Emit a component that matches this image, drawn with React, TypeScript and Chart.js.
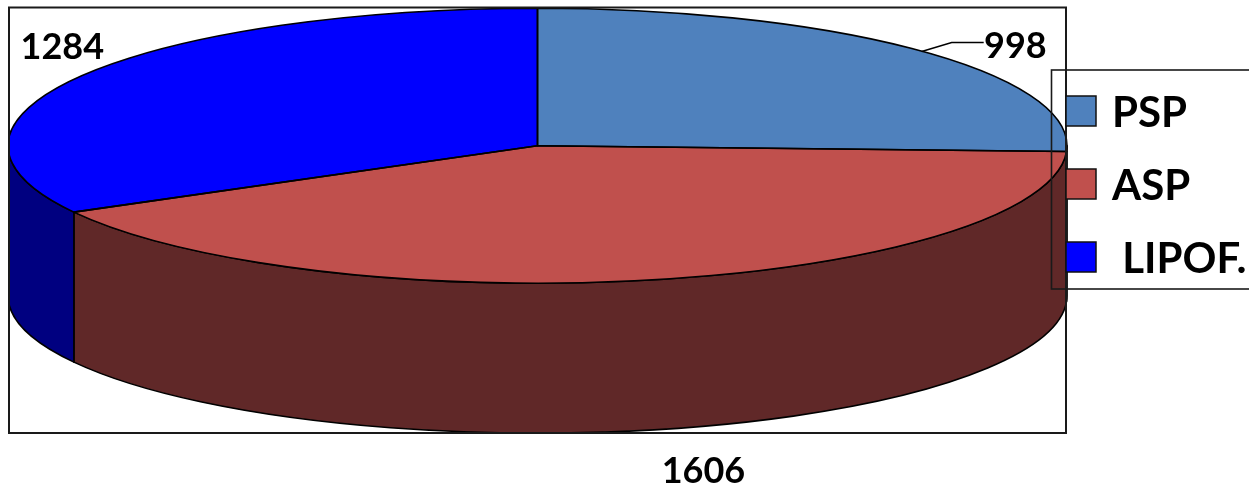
import React, { useEffect, useRef } from 'react';
import { Chart, registerables } from 'chart.js';

Chart.register(...registerables);

// ---- data ----
const categories = ['PSP', 'ASP', ' LIPOF.'];
const values = [998, 1606, 1284];
const valueLabels = ['998', '1606', '1284'];

// ---- styles ----
const topColors = ['#4F81BD', '#C0504D', '#0000FF'];
const sideColors = ['#2B4566', '#602828', '#000080'];

const W = 1249;
const H = 486;
const CX = 537.5;
const CY = 145.7;
const RX = 529.5;
const RY = 137.5;
const DEPTH = 150;
const PLOT = { left: 9, top: 7.5, right: 1066, bottom: 433 };
const FONT = 'Lato, "Liberation Sans", sans-serif';
// label offsets from the slice's outer-edge anchor point (text centre x, baseline y)
const labelOffsets: [number, number][] = [[95.7, 7], [44.7, 53.5], [-19.2, -17]];
const labelOnSide = [false, true, false];

function ellPt(t: number, dy = 0): [number, number] {
  return [CX + RX * Math.cos(t), CY + dy + RY * Math.sin(t)];
}

function drawSide(ctx: CanvasRenderingContext2D, a1: number, a2: number, color: string) {
  ctx.beginPath();
  ctx.ellipse(CX, CY, RX, RY, 0, a1, a2, false);
  const p = ellPt(a2, DEPTH);
  ctx.lineTo(p[0], p[1]);
  ctx.ellipse(CX, CY + DEPTH, RX, RY, 0, a2, a1, true);
  ctx.closePath();
  ctx.fillStyle = color;
  ctx.fill();
  ctx.lineWidth = 1.6;
  ctx.strokeStyle = '#000';
  ctx.lineJoin = 'round';
  ctx.stroke();
}

const pie3d = {
  id: 'pie3d',
  beforeDatasetsDraw(chart: any) {
    const ctx: CanvasRenderingContext2D = chart.ctx;
    const arcs = chart.getDatasetMeta(0).data;
    ctx.save();
    ctx.beginPath();
    ctx.rect(PLOT.left + 1, 0, W, H);
    ctx.clip();
    arcs.forEach((arc: any, i: number) => {
      const { startAngle, endAngle } = arc.getProps(['startAngle', 'endAngle'], true);
      for (const k of [-1, 0, 1]) {
        const a1 = Math.max(startAngle + 2 * Math.PI * k, 0);
        const a2 = Math.min(endAngle + 2 * Math.PI * k, Math.PI);
        if (a2 > a1) drawSide(ctx, a1, a2, sideColors[i]);
      }
    });
    const a0 = arcs[0];
    const r = a0.outerRadius;
    ctx.save();
    ctx.translate(CX, CY);
    ctx.scale(RX / r, RY / r);
    ctx.translate(-a0.x, -a0.y);
  },
  afterDatasetsDraw(chart: any) {
    const ctx: CanvasRenderingContext2D = chart.ctx;
    const arcs = chart.getDatasetMeta(0).data;
    ctx.restore();
    // top outlines
    ctx.lineWidth = 1.6;
    ctx.strokeStyle = '#000';
    ctx.lineJoin = 'round';
    arcs.forEach((arc: any) => {
      const { startAngle, endAngle } = arc.getProps(['startAngle', 'endAngle'], true);
      ctx.beginPath();
      ctx.moveTo(CX, CY);
      const p = ellPt(startAngle);
      ctx.lineTo(p[0], p[1]);
      ctx.ellipse(CX, CY, RX, RY, 0, startAngle, endAngle, false);
      ctx.closePath();
      ctx.stroke();
    });
    ctx.restore();

    // plot border
    ctx.lineWidth = 2;
    ctx.strokeStyle = '#1a1a1a';
    ctx.strokeRect(PLOT.left, PLOT.top, PLOT.right - PLOT.left, PLOT.bottom - PLOT.top);

    // data labels
    ctx.font = `bold 36px ${FONT}`;
    ctx.fillStyle = '#000';
    ctx.textAlign = 'center';
    ctx.textBaseline = 'alphabetic';
    arcs.forEach((arc: any, i: number) => {
      const { startAngle, endAngle } = arc.getProps(['startAngle', 'endAngle'], true);
      const mid = (startAngle + endAngle) / 2;
      const [ax, ay] = ellPt(mid, labelOnSide[i] ? DEPTH : 0);
      const [ox, oy] = labelOffsets[i];
      if (i === 0) {
        ctx.beginPath();
        ctx.lineWidth = 1.5;
        ctx.strokeStyle = '#000';
        ctx.moveTo(ax + 2, ay + 1);
        ctx.lineTo(ax + 32, ay - 8);
        ctx.lineTo(ax + 64, ay - 8);
        ctx.stroke();
      }
      ctx.fillText(valueLabels[i], ax + ox, ay + oy);
    });

    // legend
    const lx = 1051.5;
    const ly = 70;
    ctx.lineWidth = 1.6;
    ctx.strokeStyle = '#1a1a1a';
    ctx.strokeRect(lx, ly, 260, 219);
    ctx.font = `bold 42px ${FONT}`;
    ctx.textAlign = 'left';
    categories.forEach((c, i) => {
      const sy = 96 + 73 * i;
      ctx.fillStyle = topColors[i];
      ctx.fillRect(1066, sy, 30, 30);
      ctx.lineWidth = 1.5;
      ctx.strokeStyle = '#111';
      ctx.strokeRect(1066, sy, 30, 30);
      ctx.fillStyle = '#000';
      ctx.fillText(c, 1112, sy + 31);
    });
  },
};

export default function App() {
  const ref = useRef<HTMLCanvasElement>(null);
  useEffect(() => {
    if (!ref.current) return;
    const chart = new Chart(ref.current, {
      type: 'pie',
      data: {
        labels: categories,
        datasets: [
          {
            data: values,
            backgroundColor: topColors,
            borderWidth: 0,
            clip: false as any,
          } as any,
        ],
      },
      options: {
        animation: false,
        responsive: false,
        devicePixelRatio: 1,
        events: [],
        radius: RX,
        layout: { padding: { left: 0, top: 0, right: 174, bottom: 194 } },
        plugins: {
          legend: { display: false },
          tooltip: { enabled: false },
        },
      } as any,
      plugins: [pie3d],
    });
    return () => chart.destroy();
  }, []);
  return (
    <div style={{ position: 'fixed', left: 0, top: 0, width: W, height: H, background: '#fff' }}>
      <canvas ref={ref} width={W} height={H} style={{ width: W, height: H, display: 'block' }} />
    </div>
  );
}
